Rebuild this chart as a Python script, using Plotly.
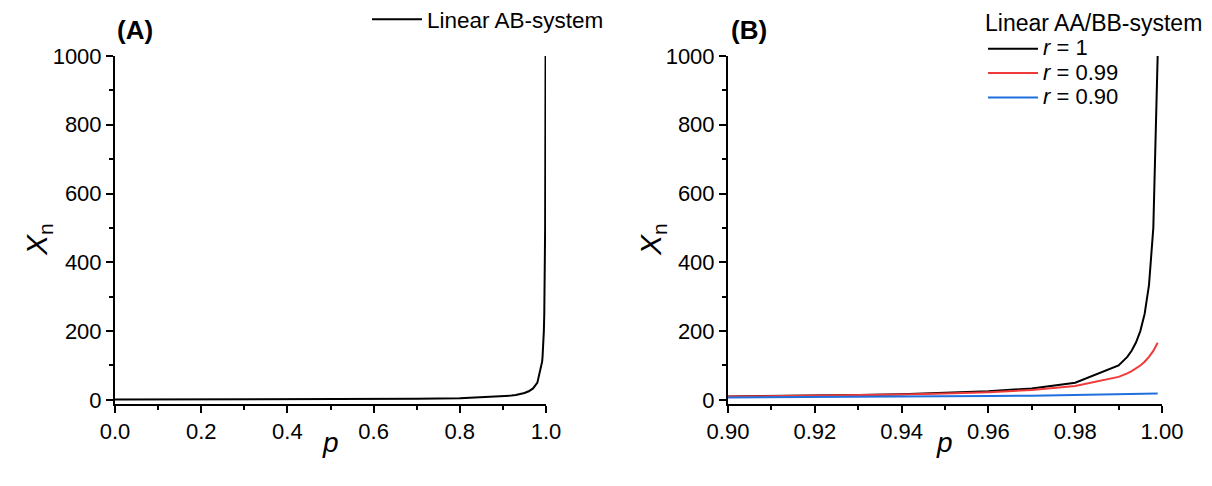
import plotly.graph_objects as go

# ---- data ----
p_A = [0.0, 0.1, 0.2, 0.3, 0.4, 0.5, 0.6, 0.7, 0.8, 0.9,
       0.91, 0.92, 0.93, 0.94, 0.95, 0.96, 0.97, 0.98, 0.99,
       0.991, 0.992, 0.993, 0.994, 0.995, 0.996, 0.997, 0.998, 0.999]
xn_A = [1.0, 1.11, 1.25, 1.43, 1.67, 2.0, 2.5, 3.33, 5.0, 10.0,
        11.1, 12.5, 14.3, 16.7, 20.0, 25.0, 33.3, 50.0, 100.0,
        111.1, 125.0, 142.9, 166.7, 200.0, 250.0, 333.3, 500.0, 1000.0]

p_B = [0.90, 0.91, 0.92, 0.93, 0.94, 0.95, 0.96, 0.97, 0.98, 0.99,
       0.991, 0.992, 0.993, 0.994, 0.995, 0.996, 0.997, 0.998, 0.999]
xn_r1 = [10.0, 11.1, 12.5, 14.3, 16.7, 20.0, 25.0, 33.3, 50.0, 100.0,
         111.1, 125.0, 142.9, 166.7, 200.0, 250.0, 333.3, 500.0, 1000.0]
xn_r099 = [9.57, 10.57, 11.82, 13.39, 15.45, 18.26, 22.31, 28.67, 40.12, 66.78,
           71.53, 77.01, 83.40, 90.95, 100.0, 111.05, 124.84, 142.55, 166.11]
xn_r090 = [6.79, 7.25, 7.79, 8.41, 9.13, 10.0, 11.05, 12.34, 13.97, 16.10,
           16.35, 16.61, 16.87, 17.15, 17.43, 17.72, 18.03, 18.34, 18.66]

r_labels = ["1", "0.99", "0.90"]
colors_B = ["#000000", "#f03a3a", "#1f6fdf"]

FONT = "Liberation Sans, Arial, sans-serif"
W, H = 1212, 486

fig = go.Figure()

fig.add_trace(go.Scatter(x=p_A, y=xn_A, mode="lines", name="Linear AB-system",
                         line=dict(color="black", width=2), xaxis="x", yaxis="y",
                         legend="legend"))
for yv, lab, c in zip([xn_r1, xn_r099, xn_r090], r_labels, colors_B):
    nm = '<span style="font-size:22px"><i>r</i> = ' + lab + '</span>'
    fig.add_trace(go.Scatter(x=p_B, y=yv, mode="lines", name=nm,
                             line=dict(color=c, width=2), xaxis="x2", yaxis="y2",
                             legend="legend2"))

def px_x(px):
    return px / W

def px_y(py):
    return 1 - py / H

axis_common = dict(showline=True, linecolor="black", linewidth=2, ticks="outside",
                   ticklen=7, tickwidth=2, tickcolor="black", showgrid=False,
                   zeroline=False, mirror=False, automargin=False,
                   tickfont=dict(family=FONT, size=22, color="black"))

yrange = [-12, 1000]
ydom = [px_y(396), px_y(48)]
minor_common = dict(ticks="outside", ticklen=4, tickwidth=2, tickcolor="black")

fig.update_layout(
    width=W, height=H,
    margin=dict(l=0, r=0, t=0, b=0, autoexpand=False),
    paper_bgcolor="white", plot_bgcolor="white",
    font=dict(family=FONT, color="black"),
    xaxis=dict(domain=[px_x(107), px_x(538)], range=[0, 1], dtick=0.2, tickformat=".1f",
               anchor="y", minor=dict(dtick=0.1, **minor_common), **axis_common),
    yaxis=dict(domain=ydom, range=yrange, dtick=200, anchor="x",
               minor=dict(dtick=100, **minor_common), **axis_common),
    xaxis2=dict(domain=[px_x(720), px_x(1154)], range=[0.90, 1.00], dtick=0.02,
                tickformat=".2f", anchor="y2",
                minor=dict(dtick=0.01, **minor_common), **axis_common),
    yaxis2=dict(domain=ydom, range=yrange, dtick=200, anchor="x2",
                minor=dict(dtick=100, **minor_common), **axis_common),
    legend=dict(xref="paper", yref="paper", x=px_x(359), y=1 + 10 / H,
                xanchor="left", yanchor="top",
                bgcolor="rgba(0,0,0,0)", font=dict(family=FONT, size=22.5, color="black"),
                itemwidth=50, tracegroupgap=0),
    legend2=dict(xref="paper", yref="paper", x=px_x(975), y=1 + 13 / H,
                 xanchor="left", yanchor="top",
                 bgcolor="rgba(0,0,0,0)", font=dict(family=FONT, size=16.5, color="black"),
                 title=dict(text='<span style="font-size:23px">Linear AA/BB-system</span>',
                            font=dict(family=FONT, size=28, color="black")),
                 itemwidth=50, tracegroupgap=0),
    showlegend=True,
)

annos = [
    dict(text="<b>(A)</b>", x=px_x(127), y=px_y(22), size=26),
    dict(text="<b>(B)</b>", x=px_x(741), y=px_y(22), size=26),
    dict(text="<i>p</i>", x=px_x(322), y=px_y(434), size=28),
    dict(text="<i>p</i>", x=px_x(936), y=px_y(434), size=28),
]
for a in annos:
    fig.add_annotation(xref="paper", yref="paper", showarrow=False,
                       xanchor="center", yanchor="middle", text=a["text"],
                       x=a["x"], y=a["y"],
                       font=dict(family=FONT, size=a["size"], color="black"))
for xc in [30, 644]:
    fig.add_annotation(xref="paper", yref="paper", showarrow=False, textangle=-90,
                       xanchor="center", yanchor="middle", x=px_x(xc), y=px_y(232),
                       text="<i>X</i><sub>n</sub>",
                       font=dict(family=FONT, size=30, color="black"))

fig.write_html("out.html")
